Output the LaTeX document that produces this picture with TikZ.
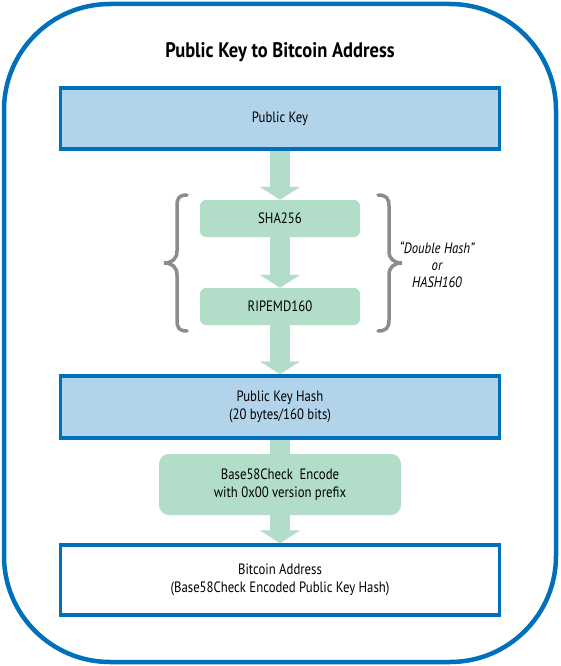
\documentclass[tikz,border=0pt]{standalone}
\usepackage{fontspec}
\setmainfont{PT Sans}[FakeStretch=0.85]
\newfontfamily\titlefont{PT Sans}[FakeStretch=0.88]
\usetikzlibrary{arrows.meta, backgrounds}

\definecolor{frameblue}{RGB}{0,112,186}
\definecolor{keyfill}{RGB}{178,212,234}
\definecolor{hashfill}{RGB}{178,222,201}
\definecolor{bracegray}{RGB}{140,140,140}

\tikzset{
  boxfont/.style={font=\fontsize{15}{17.5}\selectfont},
  keybox/.style={boxfont, draw=frameblue, line width=3.5pt, fill=keyfill,
    minimum width=439pt, align=center},
  hashbox/.style={boxfont, fill=hashfill, rounded corners=6pt, align=center},
  flow/.style={draw=hashfill, line width=20pt, -{Triangle[length=13pt, width=40pt]}},
  flowline/.style={draw=hashfill, line width=20pt},
}

\begin{document}
\begin{tikzpicture}[x=1pt, y=-1pt]
\useasboundingbox (0,0) rectangle (560,666);
% outer frame
\draw[frameblue, line width=4.5pt, rounded corners=106pt] (4,4) rectangle (556,662);
\node[font=\titlefont\bfseries\fontsize{21}{25}\selectfont] (title) at (280,52) {Public Key to Bitcoin Address};
% steps
\node[keybox, minimum height=61pt] (pubkey) at (280,118.5) {Public Key};
\node[hashbox, minimum width=160pt, minimum height=37pt] (sha) at (280,218.5) {SHA256};
\node[hashbox, minimum width=160pt, minimum height=37pt] (ripemd) at (280,306.5) {RIPEMD160};
\node[keybox, minimum height=62pt] (pkh) at (280,407) {Public Key Hash\\(20 bytes/160 bits)};
\node[hashbox, rounded corners=10pt, minimum width=242pt, minimum height=61pt] (b58) at (280,484.5)
  {Base58Check\ \ Encode\\with 0x00 version prefix};
\node[keybox, fill=white, minimum height=70pt] (addr) at (280,580)
  {Bitcoin Address\\(Base58Check Encoded Public Key Hash)};
% flow arrows, behind the boxes
\begin{scope}[on background layer]
\draw[flow] (pubkey.south) -- (sha.north);
\draw[flow] (sha.south) -- (ripemd.north);
\draw[flow] (ripemd.south) -- (pkh.north);
\draw[flowline] (pkh.south) -- (b58.north);
\draw[flow] (b58.south) -- (addr.north);
\end{scope}
% braces round the double hash
\draw[bracegray, line width=3.5pt, line cap=round] (187,195) .. controls (179,195) and (177,198) .. (177,206)
  -- (177,251) .. controls (177,259) and (172,263) .. (164,263) .. controls (172,263) and (177,267) .. (177,275)
  -- (177,320) .. controls (177,328) and (179,331) .. (187,331);
\draw[bracegray, line width=3.5pt, line cap=round] (378,195) .. controls (386,195) and (389,198) .. (389,206)
  -- (389,251) .. controls (389,259) and (394,263) .. (402,263) .. controls (394,263) and (389,267) .. (389,275)
  -- (389,320) .. controls (389,328) and (386,331) .. (378,331);
\node[font=\itshape\fontsize{15}{17}\selectfont, align=center] (dhash) at (437,265) {“Double Hash”\\or\\HASH160};
\end{tikzpicture}
\end{document}
